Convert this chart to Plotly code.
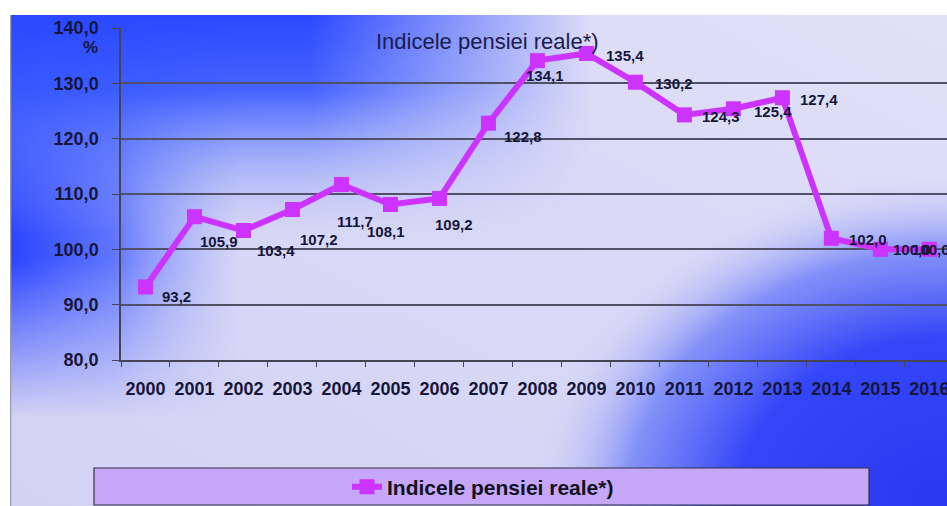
import base64
import plotly.graph_objects as go

# ---------------- data ----------------
years = ["2000", "2001", "2002", "2003", "2004", "2005", "2006", "2007", "2008",
         "2009", "2010", "2011", "2012", "2013", "2014", "2015", "2016"]
pension_index = [93.2, 105.9, 103.4, 107.2, 111.7, 108.1, 109.2, 122.8, 134.1,
                 135.4, 130.2, 124.3, 125.4, 127.4, 102.0, 100.0, 100.0]
series_name = "Indicele pensiei reale*)"
chart_title = "Indicele pensiei reale*)"
y_unit = "%"

# label offsets (px, right / down) for the data labels
label_dx = [31, 25, 33, 27, 14, -4, 15, 35, 8, 39, 39, 37, 40, 37, 37, 32, 2]
label_dy = [10, 25, 20, 30, 37, 27, 26, 13, 15, 2, 1, 2, 3, 2, 1, 0, 0]

FONT = "Liberation Sans, Arial, sans-serif"
LINE_COLOR = "#cc33ff"
TEXT_DARK = "#16163a"

W, H = 947, 506
L, R, T, B = 121, 0, 28, 146
PW, PH = W - L - R, H - T - B

# ---------------- background gradient (svg image) ----------------
bg_x0, bg_y0 = 10, 15
bw, bh = W - bg_x0, H - bg_y0
svg = f'''<svg xmlns="http://www.w3.org/2000/svg" width="{bw}" height="{bh}" viewBox="0 0 {bw} {bh}" preserveAspectRatio="none">
<defs>
<linearGradient id="base" x1="0" y1="1" x2="1" y2="0">
<stop offset="0" stop-color="#d2d2f5"/>
<stop offset="0.5" stop-color="#d8d8f6"/>
<stop offset="1" stop-color="#e0e0f8"/>
</linearGradient>
<linearGradient id="left" gradientUnits="userSpaceOnUse" x1="0" y1="0" x2="230" y2="0">
<stop offset="0" stop-color="#2a44ff" stop-opacity="1"/>
<stop offset="0.45" stop-color="#4a64ff" stop-opacity="0.85"/>
<stop offset="1" stop-color="#8a9cfa" stop-opacity="0"/>
</linearGradient>
<linearGradient id="leftMaskG" gradientUnits="userSpaceOnUse" x1="0" y1="0" x2="0" y2="{bh}">
<stop offset="0" stop-color="white"/>
<stop offset="0.5" stop-color="white"/>
<stop offset="0.82" stop-color="black"/>
</linearGradient>
<mask id="leftMask" maskUnits="userSpaceOnUse" x="0" y="0" width="{bw}" height="{bh}">
<rect x="0" y="0" width="{bw}" height="{bh}" fill="url(#leftMaskG)"/>
</mask>
<linearGradient id="top" gradientUnits="userSpaceOnUse" x1="0" y1="0" x2="0" y2="220">
<stop offset="0" stop-color="#2a48ff" stop-opacity="1"/>
<stop offset="0.35" stop-color="#3a5aff" stop-opacity="0.92"/>
<stop offset="0.7" stop-color="#6a84fc" stop-opacity="0.4"/>
<stop offset="1" stop-color="#a0aaf8" stop-opacity="0"/>
</linearGradient>
<linearGradient id="topMaskG" gradientUnits="userSpaceOnUse" x1="0" y1="0" x2="{bw}" y2="0">
<stop offset="0" stop-color="white"/>
<stop offset="0.32" stop-color="white"/>
<stop offset="0.62" stop-color="black"/>
</linearGradient>
<mask id="topMask" maskUnits="userSpaceOnUse" x="0" y="0" width="{bw}" height="{bh}">
<rect x="0" y="0" width="{bw}" height="{bh}" fill="url(#topMaskG)"/>
</mask>
<radialGradient id="br" gradientUnits="userSpaceOnUse" cx="{bw}" cy="{bh}" r="420"
 gradientTransform="translate({bw},{bh}) scale(1,0.8) translate({-bw},{-bh})">
<stop offset="0" stop-color="#2a38f0" stop-opacity="1"/>
<stop offset="0.5" stop-color="#3446f8" stop-opacity="1"/>
<stop offset="0.76" stop-color="#7484f8" stop-opacity="0.85"/>
<stop offset="1" stop-color="#d8d8f6" stop-opacity="0"/>
</radialGradient>
</defs>
<rect x="0" y="0" width="{bw}" height="{bh}" fill="url(#base)"/>
<rect x="0" y="0" width="{bw}" height="{bh}" fill="url(#left)" mask="url(#leftMask)"/>
<rect x="0" y="0" width="{bw}" height="{bh}" fill="url(#top)" mask="url(#topMask)"/>
<rect x="0" y="0" width="{bw}" height="{bh}" fill="url(#br)"/>
<line x1="0.5" y1="0" x2="0.5" y2="{bh}" stroke="#9a9aa8" stroke-width="1.5"/>
</svg>'''
svg_uri = "data:image/svg+xml;base64," + base64.b64encode(svg.encode()).decode()


def px_to_paper_x(px):
    return (px - L) / PW


def px_to_paper_y(py):
    return (H - B - py) / PH


fig = go.Figure()
fig.add_trace(go.Scatter(
    x=years, y=pension_index, name=series_name,
    mode="lines+markers",
    line=dict(color=LINE_COLOR, width=6),
    marker=dict(symbol="square", size=15, color=LINE_COLOR),
    showlegend=True,
))

annotations = []
for i, (v, dx, dy) in enumerate(zip(pension_index, label_dx, label_dy)):
    annotations.append(dict(
        x=i, y=v, xref="x", yref="y", text=f"{v:.1f}".replace(".", ","),
        showarrow=False, xshift=dx, yshift=-dy,
        font=dict(family=FONT, size=15, color=TEXT_DARK, weight="bold"),
    ))
# title
annotations.append(dict(
    x=px_to_paper_x(487), y=px_to_paper_y(42), xref="paper", yref="paper",
    text=chart_title, showarrow=False, xanchor="center", yanchor="middle",
    font=dict(family=FONT, size=22, color="#1c1c50"),
))
# unit label
annotations.append(dict(
    x=0, y=140, xref="paper", yref="y", text=y_unit, showarrow=False,
    xanchor="right", yanchor="middle", xshift=-21, yshift=-19,
    font=dict(family=FONT, size=17, color=TEXT_DARK, weight="bold"),
))

fig.update_layout(
    width=W, height=H, autosize=False,
    margin=dict(l=L, r=R, t=T, b=B, pad=0, autoexpand=False),
    paper_bgcolor="white",
    plot_bgcolor="rgba(0,0,0,0)",
    separators=",.",
    font=dict(family=FONT, color=TEXT_DARK),
    images=[dict(
        source=svg_uri, xref="paper", yref="paper",
        x=px_to_paper_x(bg_x0), y=px_to_paper_y(bg_y0),
        sizex=bw / PW, sizey=bh / PH,
        xanchor="left", yanchor="top", sizing="stretch", layer="below",
    )],
    shapes=[dict(
        type="rect", xref="paper", yref="paper",
        x0=px_to_paper_x(94), x1=px_to_paper_x(869),
        y0=px_to_paper_y(505), y1=px_to_paper_y(468),
        fillcolor="#c6a6f6", line=dict(color="#333344", width=1.2), layer="below",
    )],
    annotations=annotations,
    showlegend=True,
    legend=dict(
        x=px_to_paper_x(347), y=px_to_paper_y(487), xanchor="left", yanchor="middle",
        bgcolor="rgba(0,0,0,0)", borderwidth=0,
        font=dict(family=FONT, size=21, color="#111122", weight="bold"),
        orientation="h",
    ),
    xaxis=dict(
        type="category", range=[-0.5, 16.36], automargin=False,
        showgrid=False, showline=True, linecolor="#444455", linewidth=1.5,
        ticks="outside", ticklen=5, tickcolor="#444455", tickwidth=1,
        tickson="boundaries", ticklabelstandoff=12, tickangle=0,
        tickfont=dict(family=FONT, size=18, color=TEXT_DARK, weight="bold"),
        zeroline=False,
    ),
    yaxis=dict(
        range=[80, 140], dtick=10, tick0=80, tickformat=".1f", automargin=False,
        showgrid=True, gridcolor="#505066", gridwidth=1.5,
        showline=True, linecolor="#444455", linewidth=1.5,
        ticks="outside", ticklen=7, tickcolor="#444455",
        ticklabelstandoff=10,
        tickfont=dict(family=FONT, size=18, color=TEXT_DARK, weight="bold"),
        zeroline=False,
    ),
)

fig.write_html(
    "out.html",
    config={"displayModeBar": False, "responsive": False},
    post_script="document.body.style.margin='0';document.body.style.overflow='hidden';",
)
